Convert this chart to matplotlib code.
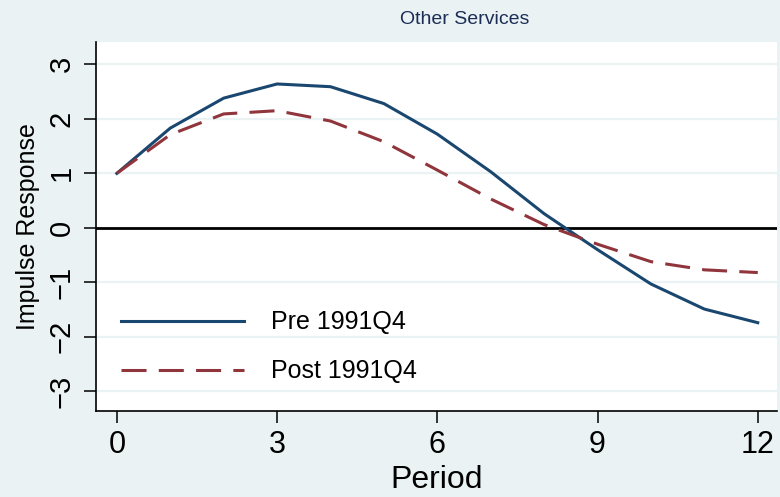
import matplotlib.pyplot as plt
import numpy as np

plt.rcParams['font.family'] = ['Liberation Sans', 'DejaVu Sans']

# impulse responses by period
period = np.arange(13)
pre_1991q4 = [1.00, 1.83, 2.38, 2.64, 2.59, 2.28, 1.72, 1.03, 0.26, -0.40, -1.03, -1.49, -1.74]
post_1991q4 = [1.00, 1.71, 2.09, 2.15, 1.96, 1.58, 1.06, 0.53, 0.06, -0.30, -0.62, -0.77, -0.82]
xticks = [0, 3, 6, 9, 12]
yticks = [-3, -2, -1, 0, 1, 2, 3]

bg = '#eaf2f3'
W, H = 780, 497
fig = plt.figure(figsize=(W / 100, H / 100), dpi=100, facecolor=bg)
left, right, top, bottom = 96, 777, 42, 411
ax = fig.add_axes([left / W, 1 - bottom / H, (right - left) / W, (bottom - top) / H])
ax.set_facecolor('white')

for y in yticks:
    ax.axhline(y, color=bg, lw=1.6, zorder=0)
ax.axhline(0, color='black', lw=2, zorder=1)

ax.plot(period, pre_1991q4, color='#1a476f', lw=2.2, label='Pre 1991Q4', zorder=3)
ax.plot(period, post_1991q4, color='#90353b', lw=2.2, dashes=(8.2, 4), label='Post 1991Q4', zorder=3)

ax.set_xlim(-0.39, 12.36)
ax.set_ylim(-3.36, 3.41)
ax.set_xticks(xticks)
ax.set_yticks(yticks)
ax.tick_params(axis='both', length=8.5, width=1.1, pad=5)
ax.tick_params(axis='x', labelsize=22)
ax.tick_params(axis='y', labelsize=21, labelrotation=90, pad=6)
for lab in ax.get_yticklabels():
    lab.set_va('center')

for side in ['top', 'right']:
    ax.spines[side].set_visible(False)
for side in ['left', 'bottom']:
    ax.spines[side].set_linewidth(1.2)

ax.set_xlabel('Period', fontsize=23, labelpad=4)
ax.set_ylabel('Impulse Response', fontsize=18, labelpad=6)
fig.text(465 / W, 1 - 20 / H, 'Other Services', ha='center', va='center',
         fontsize=14, color='#1c2d56')

ax.legend(loc='lower left', bbox_to_anchor=(0.037, 0.075), borderaxespad=0, borderpad=0,
          frameon=False, fontsize=18, handlelength=4.9, handletextpad=1.08, labelspacing=1.0)

plt.savefig('out.png', dpi=100, facecolor=bg)
